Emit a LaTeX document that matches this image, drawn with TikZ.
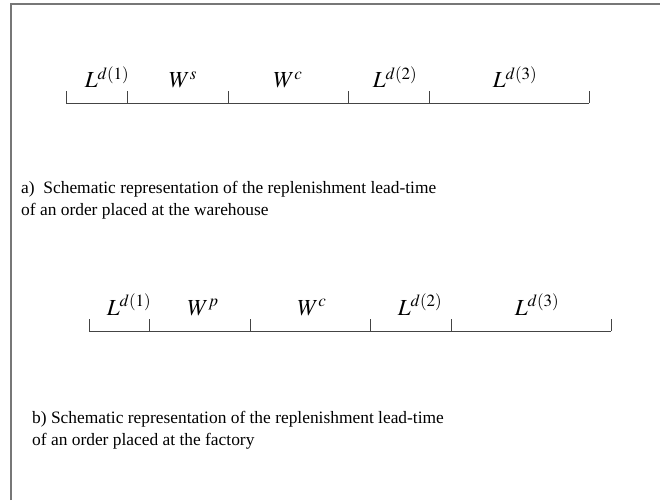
\documentclass[tikz,border=0pt]{standalone}
\usepackage{mathptmx}
\usepackage{fontspec}
\setmainfont{Liberation Serif}
\usepackage{tikz}
\usetikzlibrary{positioning}
\definecolor{framegrey}{HTML}{777777}
\definecolor{axis}{HTML}{444444}
\tikzset{
  seg/.style={anchor=base,inner sep=0pt,font=\fontsize{23}{27}\selectfont},
  note/.style={anchor=base west,align=left,inner sep=0pt,
    font=\fontsize{17.4}{22}\selectfont},
  tl/.style={draw=axis,line width=0.9pt},
  tick/.style={draw=axis,line width=0.9pt},
}

\begin{document}
\begin{tikzpicture}[x=1pt,y=-1pt]
  \useasboundingbox (0,0) rectangle (660,500);
  % frame
  \draw[draw=framegrey,line width=1.3pt] (11,500) -- (11,4) -- (660,4);

  % a) warehouse
  \coordinate (a0) at (66,103);
  \coordinate (a1) at (127,103);
  \coordinate (a2) at (228,103);
  \coordinate (a3) at (348,103);
  \coordinate (a4) at (429,103);
  \coordinate (a5) at (589,103);
  \draw[tl] (a0) -- (a5);
  \foreach \i in {0,...,5} \draw[tick] (a\i) -- ++(0,-12);
  \node[seg] (la1) at (107,88) {$L^{d(1)}$};
  \node[seg] (lws) at (183,88) {$W^{s}$};
  \node[seg] (lwc) at (288,88) {$W^{c}$};
  \node[seg] (la2) at (395,88) {$L^{d(2)}$};
  \node[seg] (la3) at (515,88) {$L^{d(3)}$};
  \node[note] (capa) at (21,215) {a)\ \ Schematic representation of the replenishment lead-time\\of an order placed at the warehouse};

  % b) factory
  \coordinate (b0) at (89,331);
  \coordinate (b1) at (149,331);
  \coordinate (b2) at (250,331);
  \coordinate (b3) at (370,331);
  \coordinate (b4) at (451,331);
  \coordinate (b5) at (611,331);
  \draw[tl] (b0) -- (b5);
  \foreach \i in {0,...,5} \draw[tick] (b\i) -- ++(0,-12);
  \node[seg] (lb1) at (129,315) {$L^{d(1)}$};
  \node[seg] (lwp) at (203,315) {$W^{p}$};
  \node[seg] (lwc2) at (312,315) {$W^{c}$};
  \node[seg] (lb2) at (420,315) {$L^{d(2)}$};
  \node[seg] (lb3) at (537,315) {$L^{d(3)}$};
  \node[note] (capb) at (32,445) {b) Schematic representation of the replenishment lead-time\\of an order placed at the factory};
\end{tikzpicture}
\end{document}
